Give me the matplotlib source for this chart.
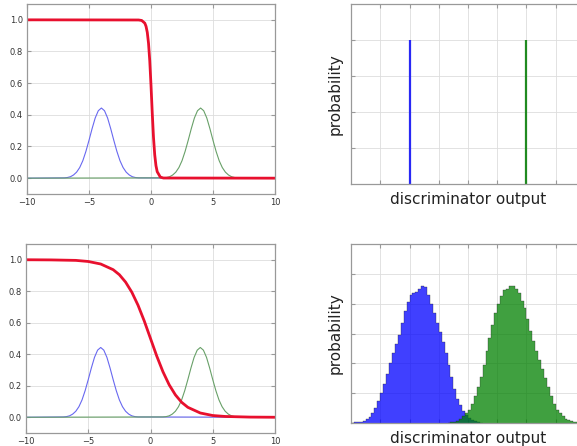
import numpy as np
import matplotlib
matplotlib.use('Agg')
import matplotlib.pyplot as plt

# left panels: two class densities + discriminator curve
pdf_x_blue = [-10, -7, -6.75, -6.5, -6.25, -6, -5.75, -5.5, -5.25, -5, -4.75, -4.5, -4.25, -4,
              -3.75, -3.5, -3.25, -3, -2.75, -2.5, -2.25, -2, -1.75, -1.5, -1.25, -1, 10]
pdf_x_green = [-10, 1, 1.25, 1.5, 1.75, 2, 2.25, 2.5, 2.75, 3, 3.25, 3.5, 3.75, 4,
               4.25, 4.5, 4.75, 5, 5.25, 5.5, 5.75, 6, 6.25, 6.5, 6.75, 7, 10]
pdf_y = [0, 0.002, 0.004, 0.009, 0.020, 0.038, 0.067, 0.11, 0.169, 0.239, 0.313, 0.38, 0.426, 0.443,
         0.426, 0.38, 0.313, 0.239, 0.169, 0.11, 0.067, 0.038, 0.020, 0.009, 0.004, 0.002, 0]

d_top_x = [-10, -1.0, -0.75, -0.5, -0.4, -0.3, -0.2, -0.1, 0, 0.1, 0.2, 0.3, 0.4, 0.5, 0.75, 1.0, 10]
d_top_y = [1.0, 0.999, 0.996, 0.979, 0.959, 0.921, 0.852, 0.741, 0.587, 0.413, 0.259, 0.148,
           0.079, 0.041, 0.007, 0.001, 0.0]

d_bot_x = [-10, -8, -6, -5, -4, -3, -2.5, -2, -1.5, -1, -0.5, 0, 0.5, 1, 1.5, 2, 2.5, 3, 4, 5, 6, 8, 10]
d_bot_y = [1.0, 0.999, 0.996, 0.989, 0.973, 0.937, 0.905, 0.858, 0.794, 0.711, 0.611, 0.5, 0.389,
           0.289, 0.206, 0.142, 0.095, 0.063, 0.027, 0.011, 0.005, 0.001, 0.0]

# right panels: histograms of discriminator output
spike_pos = [2.0, 6.0]
spike_height = [4.0, 4.0]

blue_start = 0.0
blue_counts = [0.01, 0.02, 0.03, 0.05, 0.08, 0.12, 0.2, 0.32, 0.5, 0.75, 1.0, 1.3, 1.65, 2.0, 2.35,
               2.65, 2.95, 3.35, 3.75, 4.05, 4.3, 4.35, 4.4, 4.5, 4.6, 4.55, 4.3, 4.0, 3.7, 3.35,
               3.05, 2.7, 2.35, 1.95, 1.55, 1.15, 0.8, 0.6, 0.4, 0.26, 0.16, 0.1, 0.06, 0.03, 0.01]
green_start = 3.3
green_counts = [0.01, 0.02, 0.04, 0.08, 0.14, 0.22, 0.32, 0.43, 0.65, 0.9, 1.2, 1.55, 1.95, 2.4,
                2.85, 3.3, 3.7, 4.0, 4.25, 4.45, 4.5, 4.6, 4.6, 4.5, 4.35, 4.1, 3.85, 3.5, 3.1,
                2.75, 2.4, 2.1, 1.8, 1.5, 1.2, 0.9, 0.65, 0.45, 0.32, 0.22, 0.15, 0.1, 0.07, 0.04,
                0.03, 0.02, 0.01]
bin_w = 0.1

fig = plt.figure(figsize=(5.77, 4.46), dpi=100)
ax_tl = fig.add_axes([27/577, 1-194/446, 248/577, 190/446])
ax_bl = fig.add_axes([26/577, 1-433/446, 249/577, 189/446])
ax_tr = fig.add_axes([351/577, 1-184/446, 234/577, 180/446])
ax_br = fig.add_axes([351/577, 1-423/446, 234/577, 179/446])

def style(ax):
    for s in ax.spines.values():
        s.set_color('#999999')
        s.set_linewidth(0.9)
    ax.grid(True, color='#dddddd', lw=0.6)
    ax.set_axisbelow(True)
    ax.tick_params(direction='in', top=True, right=True, length=3, color='#999999',
                   labelsize=6, labelcolor='#333333', pad=3)

for ax, dx, dy in [(ax_tl, d_top_x, d_top_y), (ax_bl, d_bot_x, d_bot_y)]:
    style(ax)
    ax.plot(pdf_x_blue, pdf_y, color='#6868f0', lw=0.8)
    ax.plot(pdf_x_green, pdf_y, color='#68a068', lw=0.8)
    ax.plot(dx, dy, color='#e8102e', lw=2)
    ax.set_xlim(-10, 10)
    ax.set_ylim(-0.1, 1.1)
    ax.set_xticks([-10, -5, 0, 5, 10])
    ax.set_yticks([0.0, 0.2, 0.4, 0.6, 0.8, 1.0])

style(ax_tr)
ax_tr.vlines(spike_pos[:1], 0, spike_height[:1], colors='#2828f5', lw=1.6)
ax_tr.vlines(spike_pos[1:], 0, spike_height[1:], colors='#208a20', lw=1.6)
ax_tr.set_xlim(0, 8)
ax_tr.set_ylim(0, 5)
ax_tr.set_yticks([1, 2, 3, 4])

style(ax_br)
b_edges = blue_start + bin_w * np.arange(len(blue_counts) + 1)
g_edges = green_start + bin_w * np.arange(len(green_counts) + 1)
ax_br.stairs(blue_counts, b_edges, fill=True, facecolor='b', edgecolor='#222222', lw=0.3, alpha=0.75)
ax_br.stairs(green_counts, g_edges, fill=True, facecolor='g', edgecolor='#222222', lw=0.3, alpha=0.75)
ax_br.set_xlim(0, 8)
ax_br.set_ylim(0, 6)
ax_br.set_yticks([1, 2, 3, 4, 5])

for ax in (ax_tr, ax_br):
    ax.set_xticks([1, 2, 3, 4, 5, 6, 7])
    ax.set_xticklabels([])
    ax.set_yticklabels([])
    ax.set_xlabel('discriminator output', fontsize=11, color='#222222', labelpad=3)
    ax.set_ylabel('probability', fontsize=11, color='#222222', labelpad=3)

fig.savefig('out.png', dpi=100)
